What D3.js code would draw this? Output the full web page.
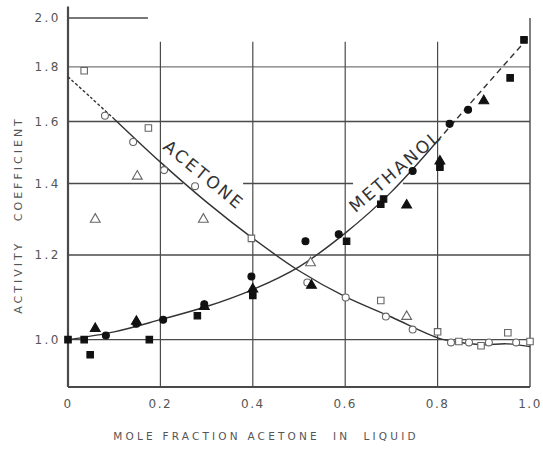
<!DOCTYPE html>
<html>
<head>
<meta charset="utf-8">
<script src="https://cdn.jsdelivr.net/npm/d3@7"></script>
<style>
  body { margin: 0; background: #fff; }
  text { font-family: "DejaVu Sans", sans-serif; }
</style>
</head>
<body>
<div id="chart"></div>
<script>
// smooth curves
const acetoneCurveX = [0, 0.05, 0.1, 0.2, 0.3, 0.4, 0.5, 0.6, 0.7, 0.8, 0.85, 0.9, 0.95, 1.0];
const acetoneCurveY = [1.762, 1.684, 1.609, 1.466, 1.345, 1.244, 1.160, 1.097, 1.050, 1.004, 0.994, 0.989, 0.991, 0.985];
const methanolCurveX = [0, 0.1, 0.2, 0.3, 0.4, 0.5, 0.6, 0.7, 0.8, 0.9, 1.0];
const methanolCurveY = [1.0, 1.017, 1.044, 1.074, 1.114, 1.170, 1.258, 1.375, 1.535, 1.72, 1.925];

// acetone points (open symbols)
const acetoneCircleX = [0.080, 0.141, 0.208, 0.275, 0.518, 0.601, 0.688, 0.746, 0.829, 0.868, 0.911, 0.970];
const acetoneCircleY = [1.620, 1.531, 1.441, 1.392, 1.131, 1.095, 1.051, 1.022, 0.994, 0.994, 0.994, 0.994];
const acetoneSquareX = [0.035, 0.174, 0.397, 0.677, 0.800, 0.846, 0.894, 0.952, 1.0];
const acetoneSquareY = [1.785, 1.578, 1.244, 1.088, 1.017, 0.996, 0.987, 1.015, 0.996];
const acetoneTriangleX = [0.059, 0.150, 0.293, 0.525, 0.733];
const acetoneTriangleY = [1.296, 1.422, 1.296, 1.180, 1.051];

// methanol points (filled symbols)
const methanolCircleX = [0.082, 0.148, 0.206, 0.295, 0.397, 0.514, 0.586, 0.746, 0.826, 0.866];
const methanolCircleY = [1.009, 1.035, 1.044, 1.079, 1.146, 1.236, 1.255, 1.438, 1.592, 1.641];
const methanolSquareX = [0, 0.035, 0.048, 0.176, 0.280, 0.400, 0.603, 0.677, 0.683, 0.805, 0.957, 0.987];
const methanolSquareY = [1.0, 1.0, 0.968, 1.0, 1.053, 1.100, 1.236, 1.339, 1.354, 1.450, 1.758, 1.908];
const methanolTriangleX = [0.059, 0.148, 0.295, 0.400, 0.527, 0.733, 0.805, 0.900];
const methanolTriangleY = [1.024, 1.040, 1.074, 1.115, 1.124, 1.336, 1.469, 1.673];

const xTicks = [0, 0.2, 0.4, 0.6, 0.8, 1.0];
const xTickLabels = ["0", "0.2", "0.4", "0.6", "0.8", "1.0"];
const yTicks = [1.0, 1.2, 1.4, 1.6, 1.8, 2.0];
const yTickLabels = ["1.0", "1.2", "1.4", "1.6", "1.8", "2.0"];

const W = 543, H = 456;
const svg = d3.select("#chart").append("svg")
    .attr("width", W).attr("height", H);

const x = d3.scaleLinear().domain([0, 1]).range([68, 530]);
const y = d3.scaleLog().domain([0.903, 2.0]).range([387, 18]);

const ink = "#333";
const grid = svg.append("g").attr("stroke", "#4a4a4a").attr("fill", "none");

// horizontal rules; the 1.4 rule is broken where the labels sit
const hRules = [
    [1.0, 0, 1], [1.2, 0, 1], [1.4, 0, 0.249], [1.4, 0.379, 0.617], [1.4, 0.725, 1],
    [1.6, 0, 1], [1.8, 0, 1], [2.0, 0, 0.173]
];
grid.selectAll("line.h").data(hRules).enter().append("line")
    .attr("x1", d => x(d[1])).attr("x2", d => x(d[2]))
    .attr("y1", d => y(d[0])).attr("y2", d => y(d[0]))
    .attr("stroke-width", d => d[0] === 1.8 ? 1.1 : 1.4)
    .attr("stroke", d => d[0] === 1.8 ? "#777" : null);

// vertical rules
grid.selectAll("line.v").data(xTicks.slice(1, 5)).enter().append("line")
    .attr("x1", d => x(d)).attr("x2", d => x(d))
    .attr("y1", y(1.9)).attr("y2", y(0.903))
    .attr("stroke-width", 1.2);

// frame
grid.append("line").attr("x1", x(0)).attr("x2", x(0))
    .attr("y1", y(2.05)).attr("y2", y(0.903)).attr("stroke-width", 2.2);
grid.append("line").attr("x1", x(1)).attr("x2", x(1))
    .attr("y1", y(2.0)).attr("y2", y(0.903)).attr("stroke-width", 1.4);
grid.append("line").attr("x1", x(0)).attr("x2", x(1))
    .attr("y1", y(0.903)).attr("y2", y(0.903)).attr("stroke-width", 1.8);

// tick labels
svg.append("g").selectAll("text").data(xTicks).enter().append("text")
    .attr("x", d => x(d)).attr("y", 408)
    .attr("text-anchor", "middle")
    .attr("font-size", 12).attr("letter-spacing", 1.5)
    .attr("fill", "#555")
    .text((d, i) => xTickLabels[i]);

svg.append("g").selectAll("text").data(yTicks).enter().append("text")
    .attr("x", 61).attr("y", d => y(d))
    .attr("dy", "0.36em")
    .attr("text-anchor", "end")
    .attr("font-size", 12).attr("letter-spacing", 2.5)
    .attr("fill", "#555")
    .text((d, i) => yTickLabels[i]);

// axis titles
svg.append("text")
    .attr("x", 266).attr("y", 440)
    .attr("text-anchor", "middle")
    .attr("font-size", 10.5).attr("letter-spacing", 3.2)
    .attr("fill", "#555")
    .style("white-space", "pre")
    .text("MOLE FRACTION ACETONE  IN  LIQUID");

svg.append("text")
    .attr("transform", "translate(22,215) rotate(-90)")
    .attr("text-anchor", "middle")
    .attr("font-size", 11).attr("letter-spacing", 3)
    .attr("fill", "#555")
    .style("white-space", "pre")
    .text("ACTIVITY   COEFFICIENT");

// curves
const line = d3.line().x(d => x(d[0])).y(d => y(d[1])).curve(d3.curveCatmullRom.alpha(0.5));
const acetone = acetoneCurveX.map((v, i) => [v, acetoneCurveY[i]]);
const methanol = methanolCurveX.map((v, i) => [v, methanolCurveY[i]]);

svg.append("path").datum(acetone.filter(d => d[0] <= 0.1))
    .attr("d", line).attr("fill", "none").attr("stroke", ink)
    .attr("stroke-width", 1.4).attr("stroke-dasharray", "3,2");
svg.append("path").datum(acetone.filter(d => d[0] >= 0.1))
    .attr("d", line).attr("fill", "none").attr("stroke", ink).attr("stroke-width", 1.4);
svg.append("path").datum(methanol.filter(d => d[0] <= 0.8))
    .attr("d", line).attr("fill", "none").attr("stroke", ink).attr("stroke-width", 1.4);
svg.append("path").datum(methanol.filter(d => d[0] >= 0.8))
    .attr("d", line).attr("fill", "none").attr("stroke", ink)
    .attr("stroke-width", 1.4).attr("stroke-dasharray", "6,4");

// curve labels
svg.append("text")
    .attr("transform", `translate(${x(0.294)},${y(1.426)}) rotate(39.5)`)
    .attr("text-anchor", "middle").attr("dy", "0.35em")
    .attr("font-size", 17).attr("letter-spacing", 2.5)
    .attr("fill", ink)
    .text("ACETONE");
svg.append("text")
    .attr("transform", `translate(${x(0.708)},${y(1.438)}) rotate(-41)`)
    .attr("text-anchor", "middle").attr("dy", "0.35em")
    .attr("font-size", 17).attr("letter-spacing", 2.4)
    .attr("fill", ink)
    .text("METHANOL");

// markers
function drawPoints(xs, ys, type, filled) {
    const sym = d3.symbol()
        .type(type === "circle" ? d3.symbolCircle : type === "square" ? d3.symbolSquare : d3.symbolTriangle)
        .size(type === "circle" ? 38 : 42);
    svg.append("g").selectAll("path").data(xs.map((v, i) => [v, ys[i]])).enter().append("path")
        .attr("d", sym)
        .attr("transform", d => `translate(${x(d[0])},${y(d[1])})`)
        .attr("fill", filled ? "#111" : "#fff")
        .attr("stroke", filled ? "#111" : "#666")
        .attr("stroke-width", 1.1);
}
drawPoints(acetoneCircleX, acetoneCircleY, "circle", false);
drawPoints(acetoneSquareX, acetoneSquareY, "square", false);
drawPoints(acetoneTriangleX, acetoneTriangleY, "triangle", false);
drawPoints(methanolCircleX, methanolCircleY, "circle", true);
drawPoints(methanolSquareX, methanolSquareY, "square", true);
drawPoints(methanolTriangleX, methanolTriangleY, "triangle", true);
</script>
</body>
</html>
